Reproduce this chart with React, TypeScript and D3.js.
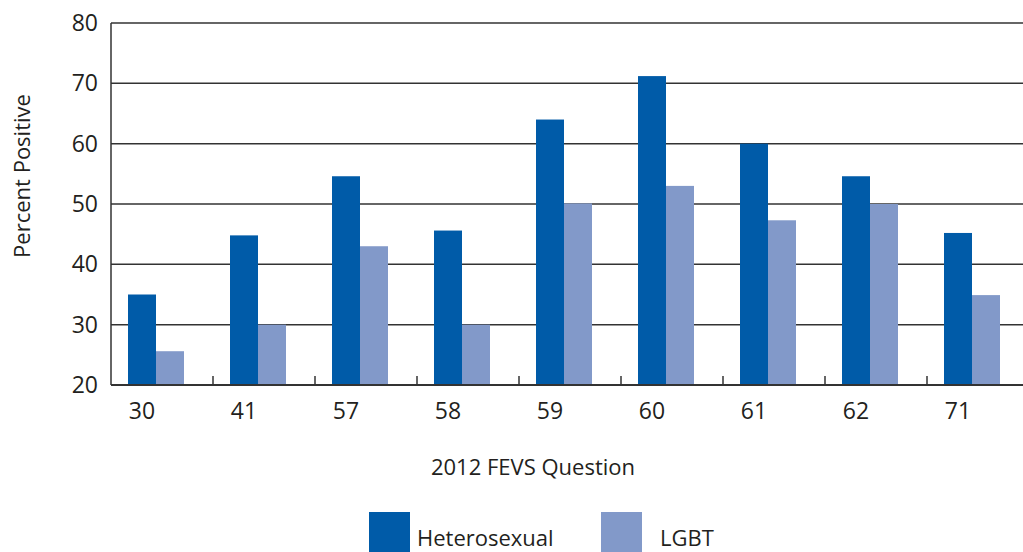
import React, { useRef, useEffect } from "react";
import * as d3 from "d3";

const categories = ["30", "41", "57", "58", "59", "60", "61", "62", "71"];
const hetero = [35, 44.8, 54.6, 45.6, 64, 71.2, 60, 54.6, 45.2];
const lgbt = [25.6, 30, 43, 30, 50.1, 53, 47.3, 50, 34.9];
const yTicks = [20, 30, 40, 50, 60, 70, 80];

const HET = "#005ba8";
const LGB = "#8299c9";

const App = () => {
  const svgRef = useRef<SVGSVGElement>(null);

  useEffect(() => {
    const width = 1023;
    const height = 552;
    const left = 111;
    const top = 23;
    const bottom = 385;
    const band = 102;

    const svg = d3.select(svgRef.current).attr("width", width).attr("height", height).html("");
    const font = "'Open Sans', 'Noto Sans', sans-serif";

    const x = d3
      .scaleBand()
      .domain(categories)
      .range([left, left + band * categories.length])
      .paddingInner(0)
      .paddingOuter(0);
    const y = d3.scaleLinear().domain([20, 80]).range([bottom, top]);
    const barW = 28;
    const off = 17;

    // grid lines
    svg
      .selectAll(".grid")
      .data(yTicks.slice(1))
      .enter()
      .append("line")
      .attr("x1", left)
      .attr("x2", width)
      .attr("y1", (d) => y(d))
      .attr("y2", (d) => y(d))
      .attr("stroke", "#333")
      .attr("stroke-width", 1.5);

    // bars
    svg
      .selectAll(".het")
      .data(hetero)
      .enter()
      .append("rect")
      .attr("x", (d, i) => x(categories[i])! + off)
      .attr("y", (d) => y(d))
      .attr("width", barW)
      .attr("height", (d) => bottom - y(d))
      .attr("fill", HET);

    svg
      .selectAll(".lgbt")
      .data(lgbt)
      .enter()
      .append("rect")
      .attr("x", (d, i) => x(categories[i])! + off + barW)
      .attr("y", (d) => y(d))
      .attr("width", barW)
      .attr("height", (d) => bottom - y(d))
      .attr("fill", LGB);

    // axes
    svg
      .append("line")
      .attr("x1", left)
      .attr("x2", left)
      .attr("y1", top)
      .attr("y2", bottom)
      .attr("stroke", "#333")
      .attr("stroke-width", 1.5);
    svg
      .append("line")
      .attr("x1", left)
      .attr("x2", width)
      .attr("y1", bottom)
      .attr("y2", bottom)
      .attr("stroke", "#333")
      .attr("stroke-width", 2);

    // x ticks between categories
    svg
      .selectAll(".xt")
      .data(categories.slice(1))
      .enter()
      .append("line")
      .attr("x1", (d) => x(d)!)
      .attr("x2", (d) => x(d)!)
      .attr("y1", bottom - 9)
      .attr("y2", bottom)
      .attr("stroke", "#333")
      .attr("stroke-width", 1.5);

    // y labels
    svg
      .selectAll(".yl")
      .data(yTicks)
      .enter()
      .append("text")
      .attr("x", 98)
      .attr("y", (d) => y(d) + 8)
      .attr("text-anchor", "end")
      .attr("font-family", font)
      .attr("font-size", 23)
      .attr("fill", "#231f20")
      .text((d) => d);

    // x labels
    svg
      .selectAll(".xl")
      .data(categories)
      .enter()
      .append("text")
      .attr("x", (d) => x(d)! + off + barW / 2)
      .attr("y", 419)
      .attr("text-anchor", "middle")
      .attr("font-family", font)
      .attr("font-size", 23)
      .attr("fill", "#231f20")
      .text((d) => d);

    svg
      .append("text")
      .attr("transform", "translate(30,176) rotate(-90)")
      .attr("text-anchor", "middle")
      .attr("font-family", font)
      .attr("font-size", 22)
      .attr("fill", "#231f20")
      .text("Percent Positive");

    svg
      .append("text")
      .attr("x", 533)
      .attr("y", 475)
      .attr("text-anchor", "middle")
      .attr("font-family", font)
      .attr("font-size", 22)
      .attr("fill", "#231f20")
      .text("2012 FEVS Question");

    // legend
    const legend = [
      { label: "Heterosexual", color: HET, x: 369, tx: 417 },
      { label: "LGBT", color: LGB, x: 601, tx: 660 },
    ];
    legend.forEach((l) => {
      svg.append("rect").attr("x", l.x).attr("y", 512).attr("width", 41).attr("height", 40).attr("fill", l.color);
      svg
        .append("text")
        .attr("x", l.tx)
        .attr("y", 546)
        .attr("font-family", font)
        .attr("font-size", 22)
        .attr("fill", "#231f20")
        .text(l.label);
    });
  }, []);

  return <svg ref={svgRef} style={{ position: "absolute", left: 0, top: 0 }} />;
};

export default App;
